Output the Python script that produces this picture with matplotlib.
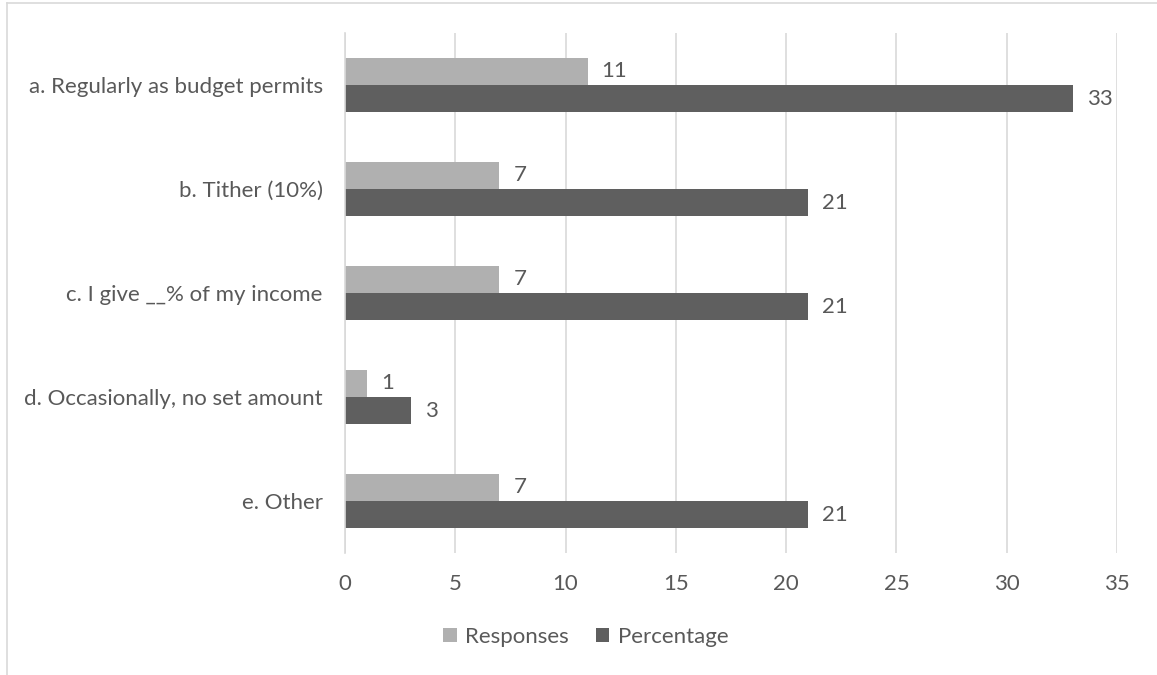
import numpy as np
import matplotlib.pyplot as plt
from matplotlib.lines import Line2D

# giving habits survey
categories = ["a. Regularly as budget permits", "b. Tither (10%)",
              "c. I give __% of my income", "d. Occasionally, no set amount",
              "e. Other"]
responses = [11, 7, 7, 1, 7]
percentage = [33, 21, 21, 3, 21]

txt = "#595959"
fs = 16
plt.rcParams['font.family'] = ['Lato', 'DejaVu Sans']

fig = plt.figure(figsize=(11.57, 6.75), dpi=100)
ax = fig.add_axes([345 / 1157, 1 - 553 / 675, (1117 - 345) / 1157, 520 / 675])

y = np.arange(len(categories))
h = 0.26
b1 = ax.barh(y - h / 2, responses, height=h, color="#B0B0B0", label="Responses")
b2 = ax.barh(y + h / 2, percentage, height=h, color="#5F5F5F", label="Percentage")

for bars, vals in ((b1, responses), (b2, percentage)):
    for bar, v in zip(bars, vals):
        ax.annotate(str(v), (v, bar.get_y() + bar.get_height() / 2),
                    xytext=(10, 0), textcoords="offset points",
                    va="center", ha="left", fontsize=fs, color=txt)

ax.set_xlim(0, 35)
ax.set_xticks(range(0, 36, 5))
ax.set_ylim(len(categories) - 0.5, -0.5)
ax.set_yticks(y)
ax.set_yticklabels(categories)
ax.tick_params(length=0, labelsize=fs, colors=txt)
ax.tick_params(axis="x", pad=15)
ax.tick_params(axis="y", pad=16)
ax.grid(axis="x", color="#D9D9D9", lw=1.2)
ax.set_axisbelow(True)
for s in ("top", "right", "bottom"):
    ax.spines[s].set_visible(False)
ax.spines["left"].set_color("#D9D9D9")
ax.spines["left"].set_linewidth(1.2)

fig.legend(loc="center", bbox_to_anchor=(586 / 1157, 1 - 637 / 675), ncol=2,
           frameon=False, fontsize=fs, labelcolor=txt, handlelength=0.6,
           handleheight=0.6, handletextpad=0.4, columnspacing=1.2)

# chart area border
fig.add_artist(Line2D([7 / 1157, 1], [1 - 3 / 675, 1 - 3 / 675],
                      color="#D9D9D9", lw=1.2, transform=fig.transFigure))
fig.add_artist(Line2D([7 / 1157, 7 / 1157], [0, 1 - 3 / 675],
                      color="#D9D9D9", lw=1.2, transform=fig.transFigure))

fig.savefig("out.png", dpi=100)
